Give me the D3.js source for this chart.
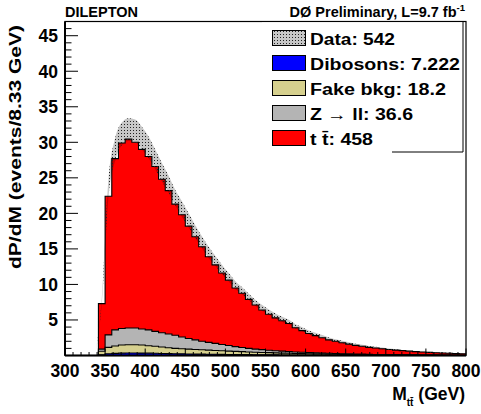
<!DOCTYPE html>
<html><head><meta charset="utf-8">
<script src="https://cdn.jsdelivr.net/npm/d3@7"></script>
<style>
body{margin:0;background:#fff}
text{font-family:"Liberation Sans",Arial,Helvetica,sans-serif;font-weight:bold;fill:#000}
</style>
</head><body>
<svg id="c" width="481" height="414"></svg>
<script>
// ---------- data ----------
const binWidth = 25 / 3;           // 8.33 GeV bins
const firstBinLow = 341.667;       // lower edge of first filled bin
const diboson = [0.1,0.25,0.3,0.33,0.35,0.35,0.34,0.33,0.31,0.29,0.27,0.25,0.23,0.21,0.2,0.19,0.18,0.17,0.16,0.15,0.14,0.13,0.12,0.11,0.1,0.1,0.09,0.08,0.08,0.07,0.07,0.06,0.06,0.05,0.05,0.05,0.04,0.04,0.04,0.03,0.03,0.03,0.03,0.02,0.02,0.02,0.02,0.02,0.01,0.01,0.01,0.01,0.01,0.01,0.01];
const fake = [0.5,0.9,1.04,1.15,1.17,1.17,1.14,1.05,0.99,0.91,0.83,0.75,0.72,0.69,0.65,0.61,0.57,0.53,0.5,0.47,0.44,0.41,0.38,0.35,0.33,0.3,0.28,0.26,0.23,0.22,0.2,0.19,0.17,0.16,0.14,0.12,0.12,0.11,0.1,0.1,0.09,0.08,0.07,0.07,0.06,0.06,0.05,0.04,0.05,0.04,0.04,0.03,0.03,0.02,0.02];
const zll = [0.3,1.75,2.26,2.32,2.35,2.35,2.25,2.22,2.1,2.0,1.93,1.84,1.65,1.5,1.35,1.2,1.1,1.0,0.89,0.78,0.67,0.58,0.5,0.44,0.39,0.34,0.3,0.27,0.24,0.21,0.18,0.16,0.14,0.13,0.12,0.11,0.09,0.08,0.07,0.06,0.05,0.04,0.04,0.04,0.04,0.03,0.03,0.03,0.02,0.02,0.02,0.02,0.01,0.02,0.01];
const ttbar = [6.4,19.5,24.1,26.1,26.58,26.13,25.27,24.4,23.2,21.6,20.17,18.46,17.2,15.8,14.5,13.3,12.05,11.05,10.05,9.2,8.25,7.63,6.9,6.2,5.58,5.06,4.63,4.29,3.95,3.4,3.05,2.69,2.43,2.16,1.89,1.72,1.55,1.37,1.22,1.11,0.98,0.9,0.81,0.72,0.64,0.57,0.51,0.46,0.41,0.37,0.32,0.29,0.26,0.23,0.21];
// data band (starts one bin earlier, at 333.3-341.7 GeV)
const dataFirstLow = 333.333;
const dataVal = [0,7.6,23.5,29.0,31.2,31.8,31.6,30.6,29.3,27.6,25.8,24.1,22.2,20.6,19.0,17.4,15.9,14.5,13.3,12.1,11.0,9.9,9.1,8.25,7.4,6.7,6.1,5.55,5.1,4.7,4.1,3.7,3.25,2.95,2.65,2.35,2.1,1.9,1.7,1.5,1.37,1.21,1.1,1.0,0.89,0.8,0.71,0.64,0.58,0.51,0.46,0.41,0.37,0.33,0.29,0.26];
const dataErr = [0,0.4,1.3,1.6,1.6,1.6,1.6,1.6,1.5,1.4,1.3,1.2,1.1,1.1,1.0,0.9,0.85,0.8,0.7,0.65,0.6,0.55,0.5,0.45,0.42,0.4,0.38,0.36,0.34,0.32,0.3,0.28,0.26,0.24,0.22,0.2,0.19,0.18,0.16,0.15,0.14,0.13,0.12,0.11,0.1,0.09,0.08,0.07,0.07,0.06,0.06,0.05,0.05,0.04,0.04,0.04];
const xTickLabels = [300,350,400,450,500,550,600,650,700,750,800];
const yTickLabels = [5,10,15,20,25,30,35,40,45];
const seriesNames = ["Dibosons","Fake bkg","Z \u2192 ll","t t\u0304"];
const seriesTotals = ["7.222","18.2","36.6","458"];
const dataTotal = "542";
const colors = {Dibosons:"#0000ff", Fake:"#d6d08e", Z:"#b4b4b4", tt:"#ff0000"};

// ---------- layout ----------
const svg = d3.select("#c");
const L = 65, R = 466, T = 21.5, B = 355.5;
const x = d3.scaleLinear().domain([300, 800]).range([L, R]);
const y = d3.scaleLinear().domain([0, 47]).range([B, T]);

const defs = svg.append("defs");
const pat = defs.append("pattern").attr("id","dots").attr("width",3).attr("height",3).attr("patternUnits","userSpaceOnUse");
pat.append("rect").attr("width",3).attr("height",3).attr("fill","rgba(0,0,0,0.22)");
pat.append("rect").attr("x",1).attr("y",1).attr("width",1).attr("height",1).attr("fill","#222");
defs.append("clipPath").attr("id","plotclip").append("rect").attr("x",L).attr("y",T).attr("width",R-L).attr("height",B-T);

// stack
const rows = ttbar.map((_, i) => ({lo: firstBinLow + i*binWidth, dib: diboson[i], fake: fake[i], zll: zll[i], tt: ttbar[i]}));
const stack = d3.stack().keys(["dib","fake","zll","tt"])(rows);
const fills = [colors.Dibosons, colors.Fake, colors.Z, colors.tt];

const g = svg.append("g").attr("clip-path","url(#plotclip)");
function stepPoints(layer){
  const pts = [[rows[0].lo, 0]];
  layer.forEach((d,i) => pts.push([rows[i].lo, d[1]]));
  const last = rows.length-1;
  pts.push([rows[last].lo + binWidth, layer[last][1]]);
  pts.push([rows[last].lo + binWidth, 0]);
  return pts;
}
// draw top-most cumulative first (ROOT THStack style)
for (let s = stack.length-1; s >= 0; s--) {
  const pts = stepPoints(stack[s]);
  g.append("path")
    .attr("d", d3.area().x(p=>x(p[0])).y0(y(0)).y1(p=>y(p[1])).curve(d3.curveStepAfter)(pts))
    .attr("fill", fills[s]).attr("stroke","none");
  g.append("path")
    .attr("d", d3.line().x(p=>x(p[0])).y(p=>y(p[1])).curve(d3.curveStepAfter)(pts))
    .attr("fill","none").attr("stroke","#000").attr("stroke-width",1.1);
}
// data band
const band = dataVal.map((v,i)=>({c: dataFirstLow + (i+0.5)*binWidth, lo: v - dataErr[i], hi: v + dataErr[i]}));
g.append("path")
  .attr("d", d3.area().x(d=>x(d.c)).y0(d=>y(d.lo)).y1(d=>y(d.hi)).curve(d3.curveMonotoneX)(band))
  .attr("fill","url(#dots)").attr("stroke","none");

// ---------- axes ----------
const ax = svg.append("g");
d3.range(300, 801, 10).forEach(v => {
  const major = v % 50 === 0;
  ax.append("line").attr("x1",x(v)).attr("x2",x(v)).attr("y1",B).attr("y2",B-(major?7:3.5))
    .attr("stroke","#000").attr("stroke-width",1);
});
d3.range(0, 48, 1).forEach(v => {
  const major = v % 5 === 0;
  ax.append("line").attr("x1",L).attr("x2",L+(major?13:6.5)).attr("y1",y(v)).attr("y2",y(v))
    .attr("stroke","#000").attr("stroke-width",1);
});
svg.append("rect").attr("x",L).attr("y",T).attr("width",R-L).attr("height",B-T)
  .attr("fill","none").attr("stroke","#000").attr("stroke-width",1.2);
svg.append("line").attr("x1",L).attr("x2",R).attr("y1",B).attr("y2",B).attr("stroke","#000").attr("stroke-width",2);
svg.append("line").attr("x1",L).attr("x2",L).attr("y1",T).attr("y2",B).attr("stroke","#000").attr("stroke-width",2);

xTickLabels.forEach(v => {
  svg.append("text").attr("x",x(v)).attr("y",377).attr("text-anchor","middle")
    .style("font-size","17.5px").text(v);
});
yTickLabels.forEach(v => {
  svg.append("text").attr("x",58).attr("y",y(v)+6.3).attr("text-anchor","end")
    .style("font-size","17.5px").text(v);
});

// axis titles
const xt = svg.append("text").attr("x",465).attr("y",400).attr("text-anchor","end").style("font-size","17.5px");
xt.append("tspan").text("M");
xt.append("tspan").attr("dy",6).style("font-size","10px").text("tt\u0304");
xt.append("tspan").attr("dy",-6).text(" (GeV)");

svg.append("text").attr("transform","translate(21,25) rotate(-90)").attr("text-anchor","end")
  .style("font-size","17px").attr("textLength",244).attr("lengthAdjust","spacingAndGlyphs")
  .text("dP/dM (events/8.33 GeV)");

// header
svg.append("text").attr("x",65).attr("y",17).style("font-size","14.5px").text("DILEPTON");
const hd = svg.append("text").attr("x",465).attr("y",17).attr("text-anchor","end").style("font-size","14.5px");
hd.append("tspan").text("D\u00D8 Preliminary, L=9.7 fb");
hd.append("tspan").attr("dy",-6).style("font-size","9.5px").text("-1");

// ---------- legend ----------
const leg = svg.append("g");
leg.append("rect").attr("x",262).attr("y",T+1).attr("width",201).attr("height",130).attr("fill","#fff");
leg.append("line").attr("x1",463).attr("x2",463).attr("y1",T).attr("y2",152).attr("stroke","#000").attr("stroke-width",1);
leg.append("line").attr("x1",392).attr("x2",463).attr("y1",152).attr("y2",152).attr("stroke","#000").attr("stroke-width",1);
const entries = [
  {label: "Data: " + dataTotal, fill: "url(#dots)", w: 85},
  {label: seriesNames[0] + ": " + seriesTotals[0], fill: colors.Dibosons, w: 150},
  {label: seriesNames[1] + ": " + seriesTotals[1], fill: colors.Fake, w: 136},
  {label: seriesNames[2] + ": " + seriesTotals[2], fill: colors.Z, w: 103},
  {label: seriesNames[3] + ": " + seriesTotals[3], fill: colors.tt, w: 63}
];
entries.forEach((e,i) => {
  const ty = 30 + i*25;
  leg.append("rect").attr("x",272.5).attr("y",ty+0.5).attr("width",33).attr("height",15)
    .attr("fill",e.fill).attr("stroke","#000").attr("stroke-width",1);
  const t = leg.append("text").attr("x",310).attr("y",ty+14.5).style("font-size","16px");
  if (i === 3) {
    t.append("tspan").text("Z ");
    t.append("tspan").style("font-weight","normal").text("\u2192");
    t.append("tspan").text(" ll: " + seriesTotals[2]);
  } else {
    t.text(e.label);
  }
  t.attr("textLength", e.w).attr("lengthAdjust","spacingAndGlyphs");
});
</script>
</body></html>
